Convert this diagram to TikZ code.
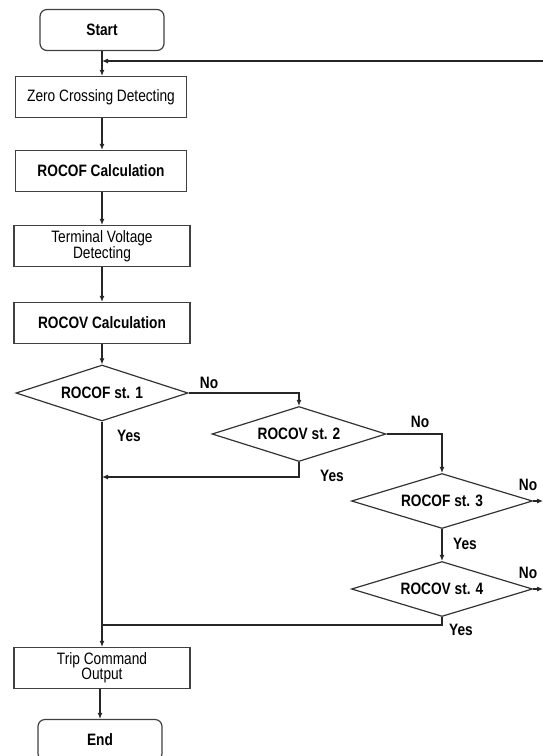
\documentclass[tikz,border=0pt]{standalone}
\usepackage{fontspec}
\setmainfont{Liberation Sans}[FakeStretch=0.83]
\usetikzlibrary{shapes.geometric,arrows.meta}
\begin{document}
\begin{tikzpicture}[x=1pt,y=-1pt,
  every node/.style={font=\fontsize{16.5}{15}\selectfont},
  procbox/.style={draw=black!75,line width=1.2pt,minimum width=176pt,minimum height=41pt,inner sep=0pt,align=center},
  termbox/.style={draw=black!75,line width=1.2pt,rounded corners=7pt,minimum width=124pt,minimum height=41pt,inner sep=0pt},
  decbox/.style={draw=black!80,line width=1.2pt,diamond,aspect=3.1,inner sep=0pt,font=\bfseries\fontsize{16.5}{15}\selectfont},
  lbl/.style={font=\bfseries\fontsize{16.5}{15}\selectfont,inner sep=0pt},
  conn/.style={draw=black!85,line width=1.1pt},
  arr/.style={conn,-{Latex[length=6pt,width=5pt]}}
]
\useasboundingbox (0,0) rectangle (543,756);
\clip (0,0) rectangle (543,756);

\node[termbox,font=\bfseries\fontsize{16.5}{15}\selectfont] (start) at (102,30) {Start};
\node[procbox,minimum width=171pt] (zero) at (101,97) {Zero Crossing Detecting};
\node[procbox,minimum width=171pt,font=\bfseries\fontsize{16.5}{15}\selectfont] (rocofc) at (101,171) {ROCOF Calculation};
\node[procbox] (term) at (102,246) {Terminal Voltage\\Detecting};
\node[procbox,font=\bfseries\fontsize{16.5}{15}\selectfont] (rocovc) at (102,323) {ROCOV Calculation};

\node[decbox,minimum width=172pt,minimum height=56pt] (d1) at (102,393) {ROCOF st. 1};
\node[decbox,minimum width=174pt,minimum height=55pt] (d2) at (299,434) {ROCOV st. 2};
\node[decbox,minimum width=181pt,minimum height=55pt] (d3) at (442,501) {ROCOF st. 3};
\node[decbox,minimum width=181pt,minimum height=55pt] (d4) at (442,589) {ROCOV st. 4};

\node[procbox] (trip) at (102,668) {Trip Command\\Output};
\node[termbox,font=\bfseries\fontsize{16.5}{15}\selectfont] (end) at (100,740) {End};

\coordinate (fb) at (543,61);
\coordinate (j1) at (102,61);
\coordinate (o3) at (543,501);
\coordinate (o4) at (543,589);

% main flow
\draw[conn] (start.south) -- (j1);
\draw[arr] (j1) -- (j1 |- zero.north);
\draw[arr] (fb) -- (j1);
\draw[arr] (j1 |- zero.south) -- (j1 |- rocofc.north);
\draw[arr] (j1 |- rocofc.south) -- (j1 |- term.north);
\draw[arr] (term.south) -- (term.south |- rocovc.north);
\draw[arr] (rocovc.south) -- (rocovc.south |- d1.north);

% decisions
\draw[arr] (d1.east) -| (d2.north);
\draw[arr] (d2.east) -| (d3.north);
\draw[arr] (d3.south) -- (d4.north);
\draw[arr] (d3.east) -- (o3);
\draw[arr] (d4.east) -- (o4);

\coordinate (y2) at (d2.south |- 0,477);
\coordinate (y4) at (d4.south |- 0,625);
\draw[conn] (d1.south) -- (d1.south |- y2) -- (y4 -| d1.south);
\draw[arr] (d2.south) -- (y2) -- (y2 -| d1.south);
\draw[conn] (d4.south) -- (y4) -- (y4 -| d1.south);
\draw[arr] (y4 -| d1.south) -- (d1.south |- trip.north);
\draw[arr] (trip.south -| end.north) -- (end.north);

% labels
\node[lbl] (no1) at (209,383) {No};
\node[lbl] (yes1) at (129,436) {Yes};
\node[lbl] (no2) at (420,422) {No};
\node[lbl] (yes2) at (332,476) {Yes};
\node[lbl] (no3) at (528,485) {No};
\node[lbl] (yes3) at (465,544) {Yes};
\node[lbl] (no4) at (528,573) {No};
\node[lbl] (yes4) at (461,630) {Yes};
\end{tikzpicture}
\end{document}
